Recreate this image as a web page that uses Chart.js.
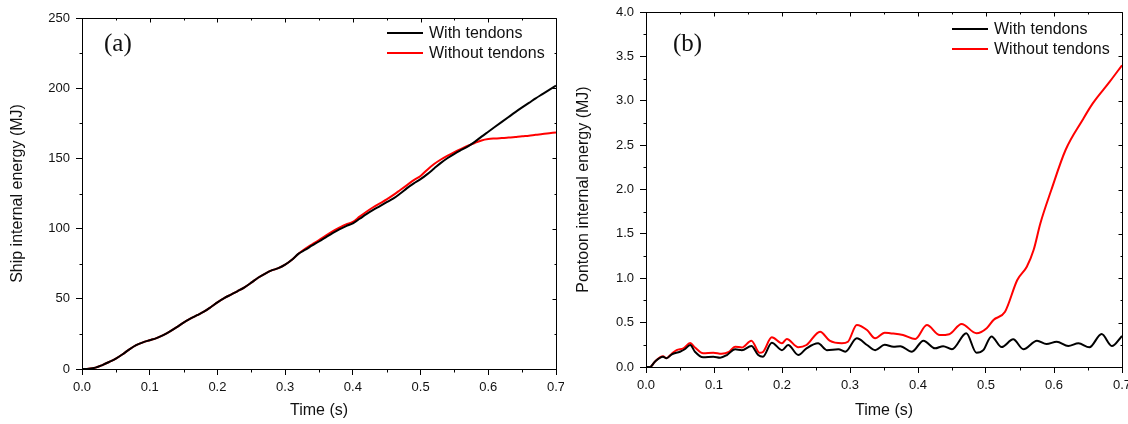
<!DOCTYPE html>
<html>
<head>
<meta charset="utf-8">
<script src="https://cdn.jsdelivr.net/npm/chart.js@4.4.0/dist/chart.umd.min.js"></script>
<style>
  body { margin: 0; background: #fff; width: 1128px; height: 424px; overflow: hidden; position: relative;
         font-family: "Liberation Sans", Arial, sans-serif; color: #111; }
  canvas { position: absolute; top: 0; }
  .tag { position: absolute; font-family: "Liberation Serif", "Times New Roman", serif; font-size: 25px; line-height: 25px; }
  .leg { position: absolute; font-size: 16px; line-height: 20px; white-space: nowrap; }
  .ln { display: inline-block; width: 36px; height: 2px; vertical-align: middle; margin-right: 6px; position: relative; top: -1px; }
</style>
</head>
<body>
<canvas id="ship" width="564" height="424" style="left:0"></canvas>
<canvas id="pontoon" width="564" height="424" style="left:564px"></canvas>

<div class="tag" style="left:104px;top:30px">(a)</div>
<div class="leg" style="left:387px;top:23px"><span class="ln" style="background:#000"></span>With tendons</div>
<div class="leg" style="left:387px;top:43px"><span class="ln" style="background:#f00"></span>Without tendons</div>

<div class="tag" style="left:673px;top:30px">(b)</div>
<div class="leg" style="left:952px;top:19px"><span class="ln" style="background:#000"></span>With tendons</div>
<div class="leg" style="left:952px;top:39px"><span class="ln" style="background:#f00"></span>Without tendons</div>

<script>
// time axis of panel (a), seconds
var timeA = [0, 0.01, 0.02, 0.03, 0.04, 0.05, 0.06, 0.07, 0.08, 0.09,
  0.10, 0.11, 0.12, 0.13, 0.14, 0.15, 0.16, 0.17, 0.18, 0.19,
  0.20, 0.21, 0.22, 0.23, 0.24, 0.25, 0.26, 0.27, 0.28, 0.29,
  0.30, 0.31, 0.32, 0.33, 0.34, 0.35, 0.36, 0.37, 0.38, 0.39,
  0.40, 0.41, 0.42, 0.43, 0.44, 0.45, 0.46, 0.47, 0.48, 0.49,
  0.50, 0.51, 0.52, 0.53, 0.54, 0.55, 0.56, 0.57, 0.58, 0.59,
  0.60, 0.61, 0.62, 0.63, 0.64, 0.65, 0.66, 0.67, 0.68, 0.69, 0.70];

// ship internal energy (MJ)
var shipWith = [0, 0.2, 1.0, 2.8, 5, 7.4, 10.5, 14, 17, 19,
  20.5, 22, 24.2, 26.8, 29.8, 33, 35.8, 38.3, 40.8, 44,
  47.5, 50.5, 53, 55.5, 58.2, 61.5, 65, 67.8, 70.2, 71.8,
  74.3, 77.8, 82.2, 85, 88, 90.8, 93.8, 96.8, 99.5, 101.8,
  103.8, 107, 110.3, 113.3, 116, 118.8, 121.5, 125, 128.8, 132.2,
  135.2, 138.8, 142.8, 146.8, 150.3, 153.3, 156, 158.6, 161.8, 165.5,
  169, 172.5, 176, 179.5, 183, 186.3, 189.5, 192.8, 195.8, 198.8, 201.8];
var shipWithout = [0, 0.2, 1.0, 2.8, 5, 7.4, 10.5, 14, 17, 19,
  20.5, 22, 24.2, 26.8, 29.8, 33, 35.8, 38.3, 40.8, 44,
  47.5, 50.5, 53, 55.5, 58.2, 61.5, 65, 67.8, 70.2, 71.8,
  74.3, 77.8, 82.2, 85.8, 88.8, 91.8, 95, 98, 100.6, 103,
  104.8, 108.5, 112, 115.2, 118, 120.8, 124, 127.5, 131, 134.5,
  137.5, 142, 146, 149.2, 152, 154.5, 156.8, 159, 161, 162.8,
  163.8, 164.2, 164.5, 164.8, 165.3, 165.8, 166.2, 166.8, 167.3, 167.9, 168.5];

// pontoon internal energy (MJ), read at the turning points of each curve
var timeWith = [0, 0.006, 0.013, 0.025, 0.030, 0.038, 0.05, 0.057, 0.065, 0.072,
  0.084, 0.099, 0.109, 0.119, 0.131, 0.141, 0.155, 0.165, 0.172, 0.185,
  0.2, 0.209, 0.224, 0.236, 0.253, 0.266, 0.283, 0.293, 0.31, 0.325,
  0.337, 0.351, 0.364, 0.374, 0.391, 0.408, 0.425, 0.437, 0.45, 0.471,
  0.486, 0.496, 0.508, 0.523, 0.54, 0.555, 0.575, 0.589, 0.604, 0.621,
  0.636, 0.652, 0.67, 0.685, 0.7];
var pontoonWith = [0, 0, 0.06, 0.116, 0.098, 0.143, 0.172, 0.2, 0.248, 0.172,
  0.109, 0.116, 0.105, 0.135, 0.2, 0.19, 0.237, 0.135, 0.116, 0.274,
  0.19, 0.248, 0.135, 0.21, 0.267, 0.19, 0.2, 0.172, 0.323, 0.248,
  0.19, 0.25, 0.229, 0.235, 0.172, 0.297, 0.21, 0.235, 0.2, 0.38,
  0.16, 0.19, 0.345, 0.225, 0.312, 0.2, 0.297, 0.259, 0.285, 0.237,
  0.267, 0.222, 0.372, 0.237, 0.35];

var timeWithout = [0, 0.006, 0.013, 0.025, 0.030, 0.038, 0.045, 0.055, 0.065, 0.072,
  0.084, 0.099, 0.111, 0.122, 0.131, 0.141, 0.155, 0.167, 0.172, 0.185,
  0.2, 0.207, 0.224, 0.236, 0.256, 0.27, 0.288, 0.297, 0.31, 0.325,
  0.337, 0.351, 0.359, 0.378, 0.396, 0.413, 0.432, 0.446, 0.464, 0.486,
  0.501, 0.511, 0.528, 0.546, 0.56, 0.57, 0.58, 0.596, 0.617, 0.642,
  0.657, 0.682, 0.7];
var pontoonWithout = [0, 0, 0.06, 0.12, 0.10, 0.15, 0.19, 0.21, 0.27, 0.22,
  0.154, 0.16, 0.148, 0.17, 0.229, 0.22, 0.297, 0.16, 0.17, 0.334,
  0.267, 0.315, 0.222, 0.248, 0.398, 0.297, 0.267, 0.285, 0.473, 0.417,
  0.323, 0.386, 0.38, 0.36, 0.315, 0.473, 0.36, 0.37, 0.485, 0.38,
  0.436, 0.53, 0.623, 0.98, 1.13, 1.318, 1.62, 1.994, 2.445, 2.783,
  2.97, 3.215, 3.40];

function pts(xs, ys) {
  return xs.map(function(x, i) { return {x: x, y: ys[i]}; });
}

// box round the plot, minor ticks and the small ticks on top/right
var framePlugin = {
  id: 'frame',
  afterDraw: function(chart) {
    var ctx = chart.ctx, a = chart.chartArea;
    var sx = chart.scales.x, sy = chart.scales.y;
    ctx.save();
    ctx.strokeStyle = '#000';
    ctx.lineWidth = 1;
    ctx.beginPath();
    var L = Math.round(a.left) + 0.5, R = Math.round(a.right) + 0.5;
    var T = Math.round(a.top) + 0.5, B = Math.round(a.bottom) + 0.5;
    ctx.moveTo(L, T); ctx.lineTo(R, T); ctx.lineTo(R, B);
    // x ticks
    sx.ticks.forEach(function(t, i) {
      var px = Math.round(sx.getPixelForValue(t.value)) + 0.5;
      ctx.moveTo(px, T); ctx.lineTo(px, T + 4);
      if (i < sx.ticks.length - 1) {
        var m = Math.round(sx.getPixelForValue((t.value + sx.ticks[i + 1].value) / 2)) + 0.5;
        ctx.moveTo(m, B); ctx.lineTo(m, B + 3);
        ctx.moveTo(m, T); ctx.lineTo(m, T + 2);
      }
    });
    // y ticks
    sy.ticks.forEach(function(t, i) {
      var py = Math.round(sy.getPixelForValue(t.value)) + 0.5;
      ctx.moveTo(R, py); ctx.lineTo(R - 4, py);
      if (i < sy.ticks.length - 1) {
        var m = Math.round(sy.getPixelForValue((t.value + sy.ticks[i + 1].value) / 2)) + 0.5;
        ctx.moveTo(L, m); ctx.lineTo(L - 3, m);
        ctx.moveTo(R, m); ctx.lineTo(R - 2, m);
      }
    });
    ctx.stroke();
    ctx.restore();
  }
};

function makeChart(id, s1, s2, yMax, yStep, yDec, yTitle, pad, xH, yTitlePad) {
  return new Chart(id, {
    type: 'line',
    data: {
      datasets: [
        { label: 'With tendons', data: s1, borderColor: '#000', borderWidth: 2,
          pointRadius: 0, cubicInterpolationMode: 'monotone', fill: false },
        { label: 'Without tendons', data: s2, borderColor: '#ff0000', borderWidth: 2,
          pointRadius: 0, cubicInterpolationMode: 'monotone', fill: false }
      ]
    },
    options: {
      responsive: false,
      animation: false,
      layout: { padding: pad },
      plugins: { legend: { display: false }, tooltip: { enabled: false } },
      scales: {
        x: {
          type: 'linear', min: 0, max: 0.7,
          ticks: { stepSize: 0.1, color: '#111', font: { size: 13 }, padding: 5, maxRotation: 0, autoSkip: false,
                   callback: function(v) { return v.toFixed(1); } },
          grid: { drawOnChartArea: false, tickLength: 6, tickColor: '#000', color: '#000' },
          border: { color: '#000', width: 1 },
          title: { display: true, text: 'Time (s)', color: '#111', font: { size: 16 }, padding: { top: 0, bottom: 4 } },
          afterFit: function(s) { s.height = xH; s.paddingLeft = 0; s.paddingRight = 0; }
        },
        y: {
          type: 'linear', min: 0, max: yMax,
          ticks: { stepSize: yStep, color: '#111', font: { size: 13 }, padding: 6,
                   callback: function(v) { return v.toFixed(yDec); } },
          grid: { drawOnChartArea: false, tickLength: 6, tickColor: '#000', color: '#000' },
          border: { color: '#000', width: 1 },
          title: { display: true, text: yTitle, color: '#111', font: { size: 16 }, padding: { top: yTitlePad, bottom: 0 } },
          afterFit: function(s) { s.width = 82; s.paddingTop = 0; s.paddingBottom = 0; }
        }
      }
    },
    plugins: [framePlugin]
  });
}

makeChart('ship', pts(timeA, shipWith), pts(timeA, shipWithout), 250, 50, 0,
  'Ship internal energy (MJ)', { top: 18, right: 8, bottom: 0, left: 0 }, 55, 8);
makeChart('pontoon', pts(timeWith, pontoonWith), pts(timeWithout, pontoonWithout), 4, 0.5, 1,
  'Pontoon internal energy (MJ)', { top: 12, right: 6, bottom: 0, left: 0 }, 57, 10);
</script>
</body>
</html>
